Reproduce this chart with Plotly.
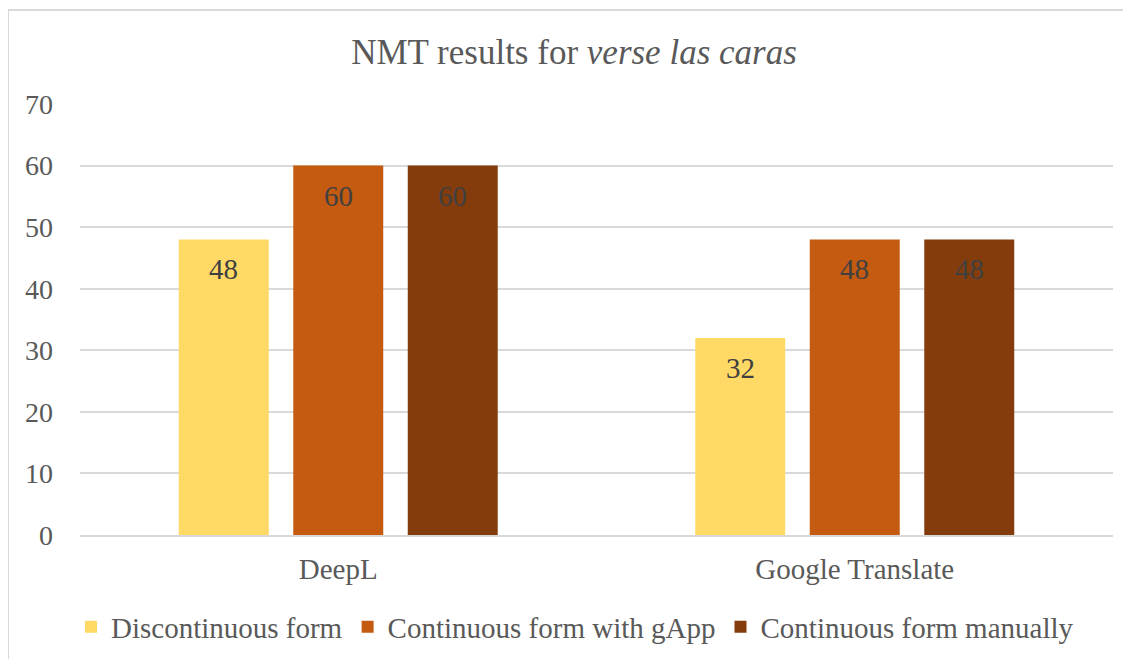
import plotly.graph_objects as go

categories = ["DeepL", "Google Translate"]
series_names = ["Discontinuous form", "Continuous form with gApp", "Continuous form manually"]
discontinuous = [48, 32]
continuous_gapp = [60, 48]
continuous_manual = [60, 48]
colors = ["#FFD966", "#C55A11", "#843C0C"]
y_ticks = [0, 10, 20, 30, 40, 50, 60, 70]

FONT = "Liberation Serif, Times New Roman, serif"
TXT = "#595959"
LBL = "#404040"
BARGAP = 0.335
GROUPGAP = 0.214

series = [discontinuous, continuous_gapp, continuous_manual]

fig = go.Figure()
for name, vals, col in zip(series_names, series, colors):
    fig.add_trace(go.Bar(
        x=categories, y=vals, name=name,
        marker=dict(color=col, line=dict(width=0)),
        hoverinfo="x+y+name",
    ))

# data labels placed inside the top of each bar (category index + group slot offset)
n = len(series)
slot = (1 - BARGAP) / n
annotations = []
for j, vals in enumerate(series):
    for i, v in enumerate(vals):
        annotations.append(dict(
            x=i + (j - (n - 1) / 2) * slot, y=v, xref="x", yref="y",
            text=str(v), showarrow=False, yshift=-30, yanchor="middle",
            font=dict(family=FONT, size=29, color=LBL),
        ))

# page body has an 8px margin; figure sized to fit the window
W, H = 1123, 651
L, R, T, B = 72, 18, 96, 124
pw, ph = W - L - R, H - T - B

fig.update_layout(
    width=W, height=H,
    margin=dict(l=L, r=R, t=T, b=B, autoexpand=False),
    paper_bgcolor="white", plot_bgcolor="white",
    barmode="group", bargap=BARGAP, bargroupgap=GROUPGAP,
    title=dict(text="NMT results for <i>verse las caras</i>", xref="container",
               x=566 / W, xanchor="center",
               y=1 - 44 / H, yanchor="middle",
               font=dict(family=FONT, size=35, color=TXT)),
    font=dict(family=FONT, color=TXT),
    showlegend=True,
    legend=dict(orientation="h", xref="container", yref="container",
                x=567 / W, xanchor="center", y=(H - 619) / H, yanchor="middle",
                font=dict(family=FONT, size=29, color=TXT), itemwidth=30,
                traceorder="normal"),
    xaxis=dict(showgrid=False, showline=True, linecolor="#D9D9D9", linewidth=1.5,
               tickfont=dict(family=FONT, size=29, color=TXT), ticks="",
               ticklabelstandoff=7),
    yaxis=dict(range=[0, 70], tickvals=y_ticks, showgrid=True, gridcolor="#D9D9D9",
               gridwidth=1.5, zeroline=False, showline=False, ticks="",
               tickfont=dict(family=FONT, size=28, color=TXT), ticklabelstandoff=26),
    annotations=annotations,
    shapes=[dict(type="rect", xref="paper", yref="paper",
                 x0=(0 - L) / pw, x1=(W + 20 - L) / pw,
                 y0=-(H + 20 - T - ph) / ph, y1=(H - B - 2) / ph,
                 line=dict(color="#D9D9D9", width=2), fillcolor="rgba(0,0,0,0)", layer="below")],
)
fig.write_html("out.html")
